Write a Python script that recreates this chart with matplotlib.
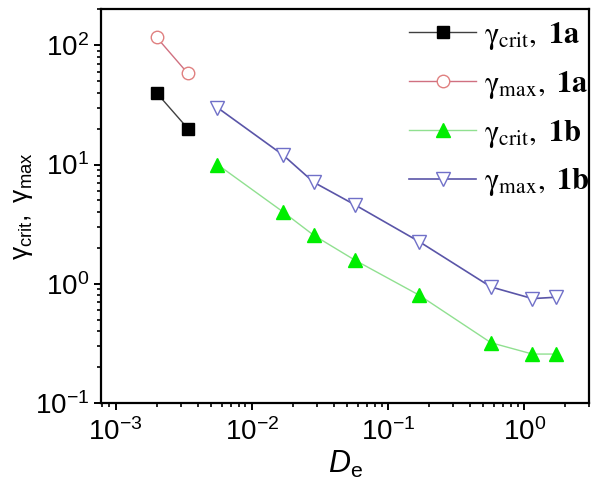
import numpy as np
import matplotlib
matplotlib.use('Agg')
import matplotlib.pyplot as plt
from matplotlib.lines import Line2D
from matplotlib.legend_handler import HandlerTuple

plt.rcParams['font.family'] = ['Liberation Sans', 'DejaVu Sans']
plt.rcParams['mathtext.fontset'] = 'custom'
plt.rcParams['mathtext.rm'] = 'Liberation Sans'
plt.rcParams['mathtext.it'] = 'Liberation Sans:italic'
plt.rcParams['mathtext.bf'] = 'Liberation Sans:bold'

# data
x_1a = [0.002, 0.0034]
crit_1a = [40, 20]
max_1a = [117, 58]

x_1b = [0.0056, 0.017, 0.0285, 0.057, 0.17, 0.57, 1.15, 1.7]
crit_1b = [10, 4, 2.55, 1.58, 0.8, 0.32, 0.257, 0.257]
max_1b = [30, 12, 7.1, 4.6, 2.25, 0.94, 0.75, 0.77]

labels = [r'$\mathrm{\gamma}_{\mathrm{crit}},\ \mathbf{1a}$',
          r'$\mathrm{\gamma}_{\mathrm{max}},\ \mathbf{1a}$',
          r'$\mathrm{\gamma}_{\mathrm{crit}},\ \mathbf{1b}$',
          r'$\mathrm{\gamma}_{\mathrm{max}},\ \mathbf{1b}$']

styles = [
    dict(color='#404040', lw=1, marker='s', ms=8, mfc='black', mec='black'),
    dict(color='#d07080', lw=1, marker='o', ms=9, mfc='white', mec='#e08080', mew=1),
    dict(color='#90e090', lw=1, marker='^', ms=10, mfc='#00ee00', mec='#00ee00'),
    dict(color='#5a55a8', lw=1.2, marker='v', ms=10, mfc='white', mec='#7070c8', mew=1),
]

fig = plt.figure(figsize=(6, 4.95), dpi=100)
ax = fig.add_axes([0.168, 0.186, 0.814, 0.795])

series = [(x_1a, crit_1a), (x_1a, max_1a), (x_1b, crit_1b), (x_1b, max_1b)]
handles = []
for (xs, ys), st in zip(series, styles):
    ax.plot(xs, ys, **st)
    # legend handle: line across the full width, marker in the middle
    ln = Line2D([], [], color=st['color'], lw=st['lw'])
    mk = Line2D([], [], ls='none', marker=st['marker'], ms=st['ms'],
                mfc=st['mfc'], mec=st['mec'], mew=st.get('mew', 1))
    handles.append((ln, mk))

ax.set_xscale('log')
ax.set_yscale('log')
ax.set_xlim(7.8e-4, 3.0)
ax.set_ylim(0.1, 200)

for s in ax.spines.values():
    s.set_linewidth(1.6)
ax.tick_params(which='major', direction='out', length=5, width=1.4,
               labelsize=20, top=False, right=False)
ax.tick_params(which='minor', direction='out', length=3, width=1.2,
               top=False, right=False)
ax.tick_params(axis='x', pad=6)

ax.set_xlabel(r'$D_{\mathrm{e}}$', fontsize=22, labelpad=2)
ax.set_ylabel(r'$\mathrm{\gamma}_{\mathrm{crit}},\ \mathrm{\gamma}_{\mathrm{max}}$',
              fontsize=19, labelpad=0)

leg = ax.legend(handles, labels, handler_map={tuple: HandlerTuple(ndivide=1)},
                loc='upper right', bbox_to_anchor=(1.001, 0.973),
                frameon=False, numpoints=1,
                handlelength=2.2, handletextpad=0.25, labelspacing=0.55,
                fontsize=22, borderaxespad=0, borderpad=0)
for t in leg.get_texts():
    t.set_math_fontfamily('stix')

fig.savefig('out.png', dpi=100)
